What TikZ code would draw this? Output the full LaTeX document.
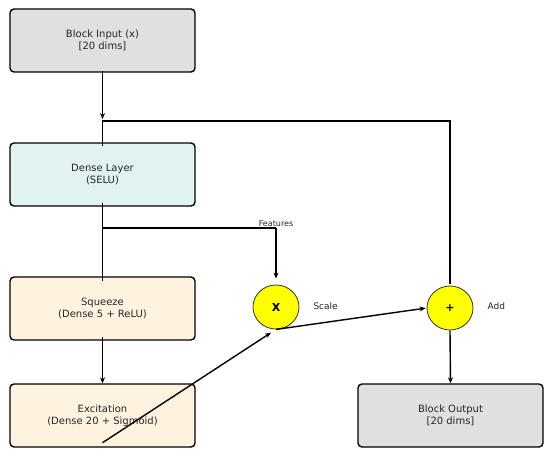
\documentclass[tikz,border=0pt]{standalone}
\usepackage{fontspec}
\setmainfont{DejaVu Sans}
\usetikzlibrary{shapes.geometric,arrows.meta}
\definecolor{boxgray}{HTML}{E0E0E0}
\definecolor{boxcyan}{HTML}{E0F2F1}
\definecolor{boxorange}{HTML}{FFF3E0}
\definecolor{opyellow}{HTML}{FFFF00}
\tikzset{
  blk/.style={draw=black, line width=1.4pt, rounded corners=4pt, minimum width=185pt, minimum height=63pt, align=center, font=\fontsize{10}{12}\selectfont, text=black!85},
  opnode/.style={ellipse, draw=black!80, line width=0.8pt, fill=opyellow, minimum width=46pt, minimum height=44pt, inner sep=0pt, font=\bfseries\fontsize{11}{13}\selectfont},
  conn/.style={line width=1.4pt},
  arr/.style={conn, -{Stealth[length=6pt,width=5pt]}},
  lbl/.style={font=\fontsize{9}{11}\selectfont, text=black!85}
}
\begin{document}
\begin{tikzpicture}[x=1pt,y=-1pt]
\useasboundingbox (0,0) rectangle (550,456);
\node[blk, fill=boxgray] (in) at (102.5,40.5) {Block Input (x)\\{}[20 dims]};
\node[blk, fill=boxcyan] (dense) at (102.5,174.5) {Dense Layer\\(SELU)};
\node[blk, fill=boxorange] (sq) at (102.5,308.5) {Squeeze\\(Dense 5 + ReLU)};
\node[blk, fill=boxorange] (ex) at (102.5,415.5) {Excitation\\(Dense 20 + Sigmoid)};
\node[blk, fill=boxgray] (out) at (450.5,415.5) {Block Output\\{}[20 dims]};
\node[opnode] (mul) at (276,307) {X};
\node[opnode] (add) at (450,308) {+};
\node[lbl, anchor=west] (scl) at (310,306) {Scale};
\node[lbl, anchor=west] (addl) at (484,306) {Add};
\coordinate (j1) at (102.5,121);
\coordinate (j2) at (102.5,228);
\coordinate (f1) at (276,228);
\node[font=\fontsize{8}{10}\selectfont, text=black!85, anchor=south, inner sep=1pt] (feat) at (f1) {Features};
% main path
\draw[arr] ([yshift=2pt]in.south) -- ([yshift=2pt]j1);
\draw[conn] ([yshift=-4pt]dense.north) -- (j1) -| ([yshift=2pt]add.north);
\draw[conn] ([yshift=4pt]dense.south) -- ([yshift=-5pt]sq.north);
\draw[conn] (j2) -- (f1);
\draw[arr, shorten >=6pt] (f1) -- (mul.north);
\draw[arr] ([yshift=4pt]sq.south) -- (ex.north);
\draw[arr, shorten >=6pt] ([yshift=5pt]ex.south) -- (mul.south);
\draw[arr, shorten >=1pt] (mul.south) -- (add.west);
\draw[arr] (add.south) -- (out.north);
\end{tikzpicture}
\end{document}
